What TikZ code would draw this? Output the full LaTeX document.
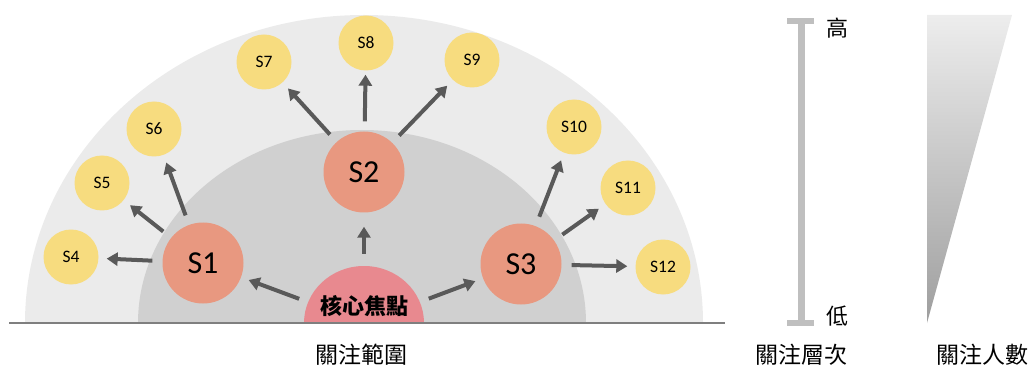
\documentclass[tikz,border=0pt]{standalone}
\usepackage{fontspec}
\setmainfont{Carlito}
\newfontfamily\cjk{Noto Sans CJK TC}
\usetikzlibrary{arrows.meta}
\definecolor{outerg}{HTML}{EBEBEB}
\definecolor{innerg}{HTML}{D0D0D0}
\definecolor{corepink}{HTML}{E8898F}
\definecolor{salmon}{HTML}{E89880}
\definecolor{yel}{HTML}{F7DC7F}
\definecolor{arr}{HTML}{595959}
\definecolor{barg}{HTML}{BFBFBF}
\definecolor{basel}{HTML}{7F7F7F}
\tikzset{
  big/.style={circle,fill=salmon,minimum size=81pt,inner sep=0pt,font=\fontsize{32}{38}\selectfont},
  small/.style={circle,fill=yel,minimum size=55pt,inner sep=0pt,font=\fontsize{17.5}{21}\selectfont},
  flow/.style={draw=arr,line width=4pt,-{Triangle[length=11pt,width=13pt]},shorten <=10pt,shorten >=8pt},
  lab/.style={font=\cjk\fontsize{23}{27}\selectfont,inner sep=0pt},
}
\begin{document}
\begin{tikzpicture}[x=1pt,y=1pt]
\useasboundingbox (0,0) rectangle (1035,367);
% background half-ellipses
\fill[outerg] (25,44) arc[start angle=180,end angle=0,x radius=339pt,y radius=308pt] -- cycle;
\fill[innerg] (138,44) arc[start angle=180,end angle=0,x radius=224pt,y radius=193pt] -- cycle;
\fill[corepink] (304,44) arc[start angle=180,end angle=0,x radius=60pt,y radius=57pt] -- cycle;
\node[circle,minimum size=118pt,inner sep=0pt] (core) at (364,44) {};
\node[font=\cjk\bfseries\fontsize{22}{26}\selectfont,inner sep=0pt] (coretxt) at (364,61) {核心焦點};
\coordinate (bl) at (9,44);
\coordinate (br) at (725,44);
\draw[basel,line width=1.5pt] (bl) -- (br);
% circles
\node[big] (S1) at (203,104) {S1};
\node[big] (S2) at (364,195) {S2};
\node[big] (S3) at (521,103) {S3};
\node[small] (S4) at (71,110) {S4};
\node[small] (S5) at (102,184) {S5};
\node[small] (S6) at (154,238) {S6};
\node[small] (S7) at (264,305) {S7};
\node[small] (S8) at (366,324) {S8};
\node[small] (S9) at (472,307) {S9};
\node[small] (S10) at (574,240) {S10};
\node[small] (S11) at (628,179) {S11};
\node[small] (S12) at (663,100) {S12};
% arrows
\draw[flow] (core) -- (S1);
\draw[flow,shorten >=14pt] (core) -- (S2);
\draw[flow] (core) -- (S3);
\draw[flow] (S1) -- (S4);
\draw[flow] (S1) -- (S5);
\draw[flow] (S1) -- (S6);
\draw[flow] (S2) -- (S7);
\draw[flow,shorten >=4pt] (S2) -- (S8);
\draw[flow] (S2) -- (S9);
\draw[flow] (S3) -- (S10);
\draw[flow] (S3) -- (S11);
\draw[flow] (S3) -- (S12);
% scale bar
\coordinate (bt) at (801,346);
\coordinate (bb) at (801,44);
\draw[barg,line width=7pt] (bt) -- (bb);
\draw[barg,line width=6pt] (787,346) -- (814,346);
\draw[barg,line width=6pt] (787,44) -- (814,44);
\node[lab,font=\cjk\fontsize{22}{26}\selectfont] (hi) at (837,339) {高};
\node[lab,font=\cjk\fontsize{22}{26}\selectfont] (lo) at (837,51) {低};
% triangle
\shade[top color=white!93!black,bottom color=white!62!black] (927,352) -- (1012,352) -- (927,44) -- cycle;
% bottom labels
\node[lab] (l1) at (361,12) {關注範圍};
\node[lab] (l2) at (801,12) {關注層次};
\node[lab] (l3) at (982,12) {關注人數};
\end{tikzpicture}
\end{document}
